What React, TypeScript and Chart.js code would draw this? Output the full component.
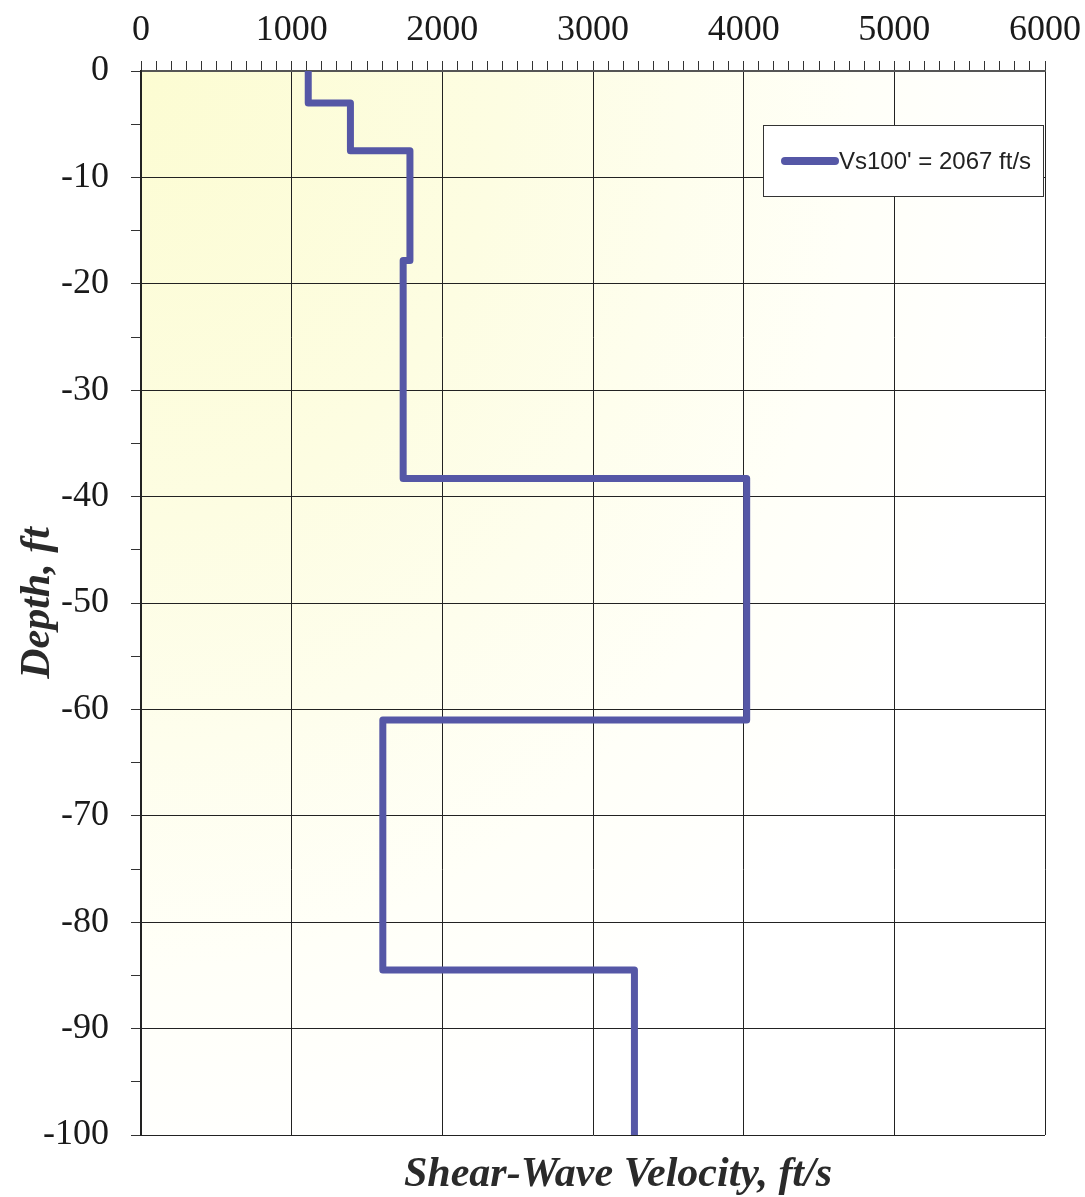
import { useEffect, useRef } from 'react';
import { Chart, registerables } from 'chart.js';

Chart.register(...registerables);

// Layered shear-wave velocity profile (depth in ft, negative downward)
const layerTops = [0, -3, -7.5, -17.8, -38.3, -61, -84.5];
const layerBottoms = [-3, -7.5, -17.8, -38.3, -61, -84.5, -100];
const layerVelocities = [1110, 1390, 1785, 1740, 4020, 1605, 3275];

const seriesLabel = "Vs100' = 2067 ft/s";
const velocityTicks = [0, 1000, 2000, 3000, 4000, 5000, 6000];
const depthTicks = [0, -10, -20, -30, -40, -50, -60, -70, -80, -90, -100];
const xTitle = 'Shear-Wave Velocity, ft/s';
const yTitle = 'Depth, ft';

const SERIF = '"Liberation Serif", "Times New Roman", serif';
const LINE_COLOR = '#5557a6';

const backdrop = {
  id: 'backdrop',
  beforeDraw(chart: any) {
    const { ctx, chartArea: a, width, height } = chart;
    ctx.save();
    ctx.fillStyle = '#ffffff';
    ctx.fillRect(0, 0, width, height);
    ctx.beginPath();
    ctx.rect(a.left, a.top, a.right - a.left, a.bottom - a.top);
    ctx.clip();
    // soft yellow wash spreading from the upper-left corner
    ctx.translate(a.left, a.top);
    ctx.scale(1, 1.25);
    const g = ctx.createRadialGradient(0, 0, 0, 0, 0, 900);
    g.addColorStop(0, 'rgb(252,252,210)');
    g.addColorStop(0.4, 'rgb(253,253,226)');
    g.addColorStop(0.8, 'rgb(255,255,248)');
    g.addColorStop(1, 'rgb(255,255,255)');
    ctx.fillStyle = g;
    ctx.fillRect(0, 0, a.right - a.left, (a.bottom - a.top) / 1.25);
    ctx.restore();
  },
};

const annotations = {
  id: 'annotations',
  afterDraw(chart: any) {
    const { ctx, chartArea: a } = chart;
    ctx.save();

    // axis titles
    ctx.fillStyle = '#2a2a2a';
    ctx.font = `italic bold 42px ${SERIF}`;
    ctx.textAlign = 'center';
    ctx.textBaseline = 'alphabetic';
    ctx.fillText(xTitle, 618, 1186);

    ctx.save();
    ctx.translate(49, (a.top + a.bottom) / 2);
    ctx.rotate(-Math.PI / 2);
    ctx.fillText(yTitle, 0, 0);
    ctx.restore();

    // legend box
    const ds = chart.data.datasets[0];
    const bx = 763, by = 125, bw = 280, bh = 71;
    ctx.fillStyle = '#ffffff';
    ctx.fillRect(bx, by, bw, bh);
    ctx.strokeStyle = '#333';
    ctx.lineWidth = 1;
    ctx.strokeRect(bx + 0.5, by + 0.5, bw, bh);

    const ly = by + 36;
    ctx.strokeStyle = ds.borderColor;
    ctx.lineWidth = 8;
    ctx.lineCap = 'round';
    ctx.beginPath();
    ctx.moveTo(785, ly);
    ctx.lineTo(835, ly);
    ctx.stroke();

    ctx.fillStyle = '#222';
    ctx.font = '24px "Liberation Sans", Arial, sans-serif';
    ctx.textAlign = 'left';
    ctx.textBaseline = 'middle';
    ctx.fillText(ds.label, 839, ly + 1);

    ctx.restore();
  },
};

export default function App() {
  const canvasRef = useRef<HTMLCanvasElement | null>(null);

  useEffect(() => {
    const canvas = canvasRef.current;
    if (!canvas) return;

    const profile = layerVelocities.flatMap((v, i) => [
      { x: v, y: layerTops[i] },
      { x: v, y: layerBottoms[i] },
    ]);

    const chart = new Chart(canvas, {
      type: 'scatter',
      data: {
        datasets: [
          {
            label: seriesLabel,
            data: profile,
            showLine: true,
            borderColor: LINE_COLOR,
            backgroundColor: LINE_COLOR,
            borderWidth: 7,
            borderJoinStyle: 'round',
            pointRadius: 0,
            pointHoverRadius: 0,
            tension: 0,
          },
        ],
      },
      options: {
        animation: false,
        responsive: false,
        devicePixelRatio: 1,
        events: [],
        layout: { padding: { left: 0, top: 0, right: 40, bottom: 62 } },
        plugins: {
          legend: { display: false },
          tooltip: { enabled: false },
          title: { display: false },
        },
        scales: {
          x: {
            type: 'linear',
            position: 'top',
            min: 0,
            max: 6000,
            afterFit: (scale: any) => {
              scale.height = 71;
              scale.paddingLeft = 0;
              scale.paddingRight = 0;
            },
            ticks: {
              stepSize: 100,
              autoSkip: false,
              maxRotation: 0,
              minRotation: 0,
              padding: 9,
              color: '#1a1a1a',
              font: { family: SERIF, size: 36, lineHeight: 1.2 },
              callback: (v: any) => (velocityTicks.includes(Number(v)) ? String(v) : ''),
            },
            grid: {
              drawTicks: true,
              tickLength: 10,
              lineWidth: 1,
              color: (c: any) =>
                c.tick && velocityTicks.includes(c.tick.value) ? '#222' : 'rgba(0,0,0,0)',
              tickColor: '#333',
            },
            border: { display: true, color: '#555', width: 2 },
          },
          y: {
            type: 'linear',
            position: 'left',
            min: -100,
            max: 0,
            afterFit: (scale: any) => {
              scale.width = 141;
            },
            ticks: {
              stepSize: 5,
              autoSkip: false,
              padding: 22,
              color: '#1a1a1a',
              font: { family: SERIF, size: 36, lineHeight: 1.2 },
              callback: (v: any) => (depthTicks.includes(Number(v)) ? String(v) : ''),
            },
            grid: {
              drawTicks: true,
              tickLength: 10,
              lineWidth: 1,
              color: (c: any) =>
                c.tick && depthTicks.includes(c.tick.value) ? '#222' : 'rgba(0,0,0,0)',
              tickColor: '#333',
            },
            border: { display: true, color: '#222', width: 2 },
          },
        },
      },
      plugins: [backdrop, annotations],
    });

    return () => chart.destroy();
  }, []);

  return (
    <div style={{ position: 'fixed', left: 0, top: 0, width: 1085, height: 1197, background: '#fff' }}>
      <canvas ref={canvasRef} width={1085} height={1197} style={{ display: 'block' }} />
    </div>
  );
}
